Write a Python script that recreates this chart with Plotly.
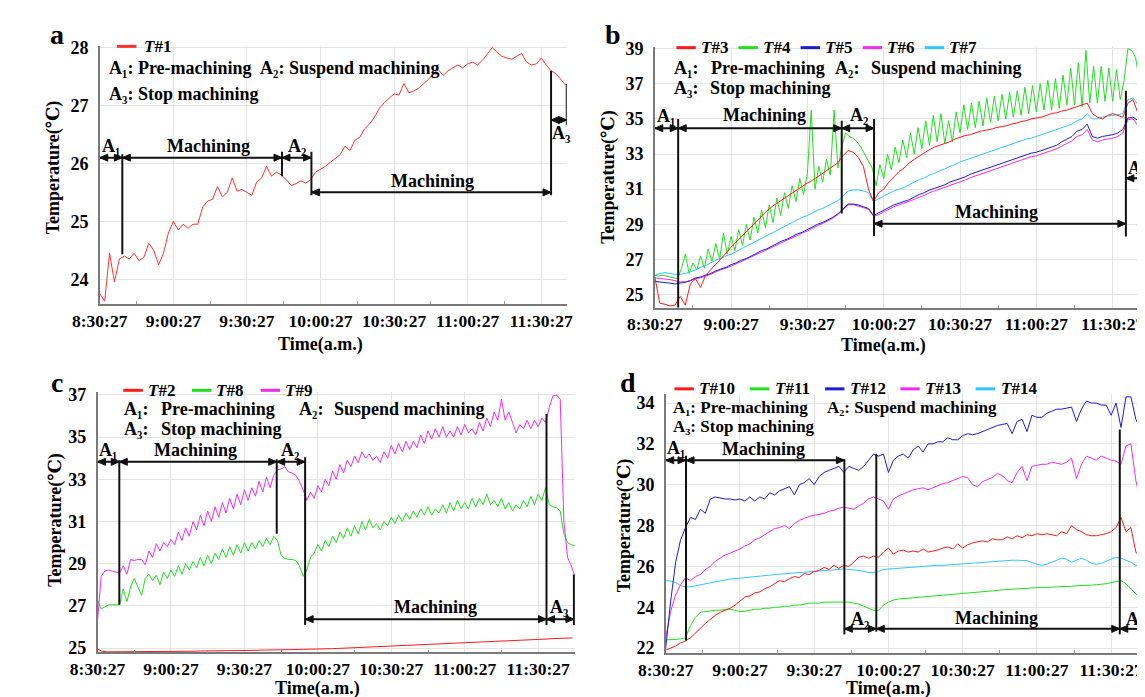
import plotly.graph_objects as go

W, H = 1145, 697
FONT = "Liberation Serif, DejaVu Serif, Noto Sans CJK SC, serif"

# ---------------- axis labels ----------------
TICK_MIN = [0, 30, 60, 90, 120, 150, 180]
TICK_TEXT = ["8:30:27", "9:00:27", "9:30:27", "10:00:27", "10:30:27", "11:00:27", "11:30:27"]
MINOR_MIN = [15, 45, 75, 105, 135, 165]

STEP_COARSE = 2.0   # minutes between samples (most series)
STEP_FINE = 1.5     # minutes between samples (strongly oscillating series)

# ---------------- panel a ----------------
T1 = [23.75, 23.62, 24.45, 23.95, 24.35, 24.4, 24.35, 24.45, 24.32, 24.38,
      24.62, 24.5, 24.25, 24.45, 24.8, 25.0, 24.85, 24.95, 24.88, 24.95,
      24.95, 25.25, 25.35, 25.38, 25.6, 25.42, 25.5, 25.75, 25.52, 25.55,
      25.5, 25.45, 25.68, 25.75, 25.95, 25.78, 25.85, 25.8, 25.72, 25.62,
      25.65, 25.7, 25.66, 25.72, 25.85, 25.9, 25.95, 26.02, 26.08, 26.15,
      26.3, 26.22, 26.4, 26.45, 26.6, 26.68, 26.8, 26.95, 27.05, 27.12,
      27.2, 27.18, 27.38, 27.22, 27.25, 27.3, 27.38, 27.45, 27.55, 27.62,
      27.52, 27.6, 27.65, 27.7, 27.65, 27.72, 27.75, 27.7, 27.78, 27.9,
      28.0, 27.92, 27.85, 27.82, 27.8, 27.85, 27.9, 27.75, 27.7, 27.72,
      27.82, 27.7, 27.6, 27.55, 27.45, 27.35]

# ---------------- panel b ----------------
T3 = [26.0, 24.5, 24.45, 24.35, 24.4, 24.9, 24.4, 25.6, 25.9, 25.4,
      26.1, 26.4, 26.75, 27.0, 27.35, 27.7, 28.0, 28.3, 28.6, 28.9,
      29.2, 29.5, 29.75, 30.0, 30.2, 30.4, 30.6, 30.8, 31.0, 31.2,
      31.35, 31.5, 31.7, 31.9, 32.1, 32.3, 32.5, 32.9, 33.2, 33.1,
      32.8, 32.3, 31.0, 30.3, 30.8, 31.0, 31.4, 31.7, 32.0, 32.2,
      32.5, 32.7, 32.9, 33.1, 33.25, 33.4, 33.5, 33.6, 33.7, 33.85,
      33.95, 34.05, 34.1, 34.2, 34.3, 34.35, 34.4, 34.5, 34.55, 34.6,
      34.7, 34.75, 34.85, 34.9, 35.0, 35.05, 35.1, 35.2, 35.3, 35.35,
      35.45, 35.5, 35.6, 35.7, 35.8, 35.9, 35.3, 35.1, 35.0, 35.2,
      35.3, 35.2, 35.1, 35.9, 36.1, 35.3, 33.5, 32.6]
T4 = [26.1, 26.05, 26.1, 26.05, 26.0, 25.95, 25.9, 26.5, 27.3, 26.2,
      26.8, 26.4, 27.2, 26.5, 27.6, 26.9, 27.9, 27.0, 28.5, 27.3,
      28.3, 27.5, 28.7, 27.8, 29.0, 28.1, 29.4, 28.5, 29.8, 28.8,
      30.1, 29.1, 30.5, 29.5, 30.8, 29.9, 31.2, 30.3, 31.6, 30.7,
      31.9, 35.5, 31.0, 32.3, 31.4, 32.7, 31.8, 35.5, 32.2, 33.4,
      34.2, 34.0, 33.9, 33.7, 33.4, 33.0, 32.6, 32.2, 31.2, 32.4,
      31.6, 33.0, 32.1, 33.4, 32.5, 33.8, 32.8, 34.2, 33.0, 34.5,
      33.3, 34.9, 33.5, 35.2, 33.7, 35.3, 33.6, 34.9, 33.7, 35.4,
      34.2, 35.8, 34.4, 35.9, 34.5, 36.0, 34.6, 36.2, 34.8, 36.3,
      34.9, 36.4, 35.0, 36.5, 35.1, 36.6, 35.2, 36.8, 35.3, 36.9,
      35.4, 37.0, 35.5, 37.2, 35.5, 37.3, 35.6, 37.5, 35.8, 37.9,
      35.8, 38.2, 35.7, 38.9, 35.9, 38.0, 35.9, 38.0, 36.0, 37.9,
      36.0, 37.8, 36.1, 37.2, 39.0, 38.9, 38.5, 37.2, 35.8, 35.0]
T5 = [25.75, 25.7, 25.68, 25.65, 25.6, 25.65, 25.7, 25.8, 25.95, 26.0,
      26.1, 26.2, 26.35, 26.45, 26.55, 26.7, 26.8, 26.95, 27.05, 27.2,
      27.35, 27.5, 27.6, 27.75, 27.9, 28.05, 28.15, 28.3, 28.45, 28.55,
      28.7, 28.85, 29.0, 29.1, 29.25, 29.4, 29.6, 29.9, 30.15, 30.15,
      30.1, 30.0, 29.9, 29.5, 29.65, 29.8, 29.95, 30.1, 30.2, 30.3,
      30.4, 30.55, 30.7, 30.8, 30.95, 31.05, 31.15, 31.25, 31.4, 31.5,
      31.6, 31.7, 31.85, 31.95, 32.05, 32.15, 32.25, 32.35, 32.45, 32.55,
      32.65, 32.75, 32.85, 32.95, 33.05, 33.1, 33.2, 33.3, 33.4, 33.5,
      33.7, 33.85, 34.0, 34.3, 34.4, 34.7, 34.0, 33.9, 34.0, 34.05,
      34.1, 34.2, 34.4, 35.05, 35.1, 34.9, 34.0, 33.8]
T6 = [25.95, 25.9, 25.88, 25.85, 25.8, 25.72, 25.72, 25.78, 25.9, 25.95,
      26.05, 26.15, 26.3, 26.4, 26.5, 26.62, 26.75, 26.88, 27.0, 27.12,
      27.28, 27.42, 27.55, 27.68, 27.82, 27.98, 28.1, 28.22, 28.38, 28.5,
      28.62, 28.78, 28.92, 29.05, 29.18, 29.35, 29.55, 29.85, 30.1, 30.12,
      30.05, 29.95, 29.85, 29.45, 29.55, 29.7, 29.85, 30.0, 30.1, 30.2,
      30.3, 30.42, 30.55, 30.65, 30.8, 30.9, 31.0, 31.1, 31.22, 31.32,
      31.42, 31.52, 31.65, 31.75, 31.85, 31.95, 32.05, 32.15, 32.25, 32.35,
      32.45, 32.55, 32.65, 32.75, 32.85, 32.9, 33.0, 33.1, 33.2, 33.3,
      33.45, 33.6, 33.75, 34.0, 34.1, 34.4, 33.8, 33.7, 33.8, 33.85,
      33.9, 34.0, 34.2, 34.95, 35.0, 34.6, 33.7, 33.5]
T7 = [26.1, 26.2, 26.25, 26.2, 26.15, 26.15, 26.2, 26.3, 26.4, 26.55,
      26.65, 26.8, 26.95, 27.05, 27.2, 27.3, 27.45, 27.6, 27.75, 27.9,
      28.05, 28.2, 28.35, 28.5, 28.65, 28.8, 28.95, 29.1, 29.25, 29.4,
      29.5, 29.65, 29.8, 29.9, 30.05, 30.2, 30.35, 30.6, 30.9, 30.95,
      30.95, 30.9, 30.8, 30.3, 30.45, 30.6, 30.75, 30.9, 31.0, 31.1,
      31.25, 31.4, 31.55, 31.65, 31.8, 31.9, 32.05, 32.15, 32.3, 32.4,
      32.55, 32.65, 32.75, 32.85, 32.95, 33.05, 33.15, 33.25, 33.35, 33.45,
      33.55, 33.65, 33.75, 33.85, 33.9, 34.0, 34.1, 34.2, 34.3, 34.4,
      34.5, 34.6, 34.7, 34.9, 35.0, 35.3, 35.0, 35.0, 35.1, 35.15,
      35.2, 35.25, 35.3, 36.1, 36.2, 35.8, 34.8, 34.5]

# ---------------- panel c ----------------
T2 = [24.95, 24.84, 24.82, 24.82, 24.82, 24.82, 24.83, 24.83, 24.83, 24.83,
      24.83, 24.83, 24.84, 24.84, 24.84, 24.84, 24.85, 24.85, 24.85, 24.85,
      24.85, 24.86, 24.86, 24.86, 24.86, 24.87, 24.87, 24.87, 24.88, 24.88,
      24.88, 24.89, 24.89, 24.9, 24.9, 24.9, 24.91, 24.91, 24.92, 24.92,
      24.93, 24.93, 24.94, 24.94, 24.95, 24.95, 24.96, 24.97, 24.97, 24.98,
      24.99, 25.0, 25.0, 25.01, 25.02, 25.03, 25.04, 25.05, 25.06, 25.07,
      25.08, 25.09, 25.1, 25.11, 25.12, 25.13, 25.14, 25.15, 25.16, 25.17,
      25.18, 25.19, 25.2, 25.21, 25.22, 25.23, 25.24, 25.25, 25.26, 25.27,
      25.28, 25.29, 25.3, 25.31, 25.32, 25.33, 25.34, 25.35, 25.36, 25.38,
      25.39, 25.41, 25.43, 25.45, 25.46, 25.47, 25.48, 25.48]
T8 = [27.3, 26.85, 26.95, 27.05, 27.05, 27.05, 27.05, 27.8, 27.2, 27.9,
      28.3, 27.9, 27.5, 28.3, 28.5, 28.2, 28.45, 28.0, 28.6, 28.3,
      28.7, 28.4, 28.9, 28.5, 29.0, 28.7, 29.1, 28.8, 29.3, 28.9,
      29.4, 29.0, 29.5, 29.2, 29.7, 29.3, 29.8, 29.4, 29.9, 29.5,
      30.0, 29.6, 30.0, 29.7, 30.1, 29.8, 30.2, 29.9, 30.3, 30.1,
      29.4, 29.25, 29.2, 29.2, 29.15, 28.9, 28.4, 28.7, 29.3, 29.5,
      29.9, 29.6, 30.1, 29.8, 30.3, 30.0, 30.5, 30.2, 30.7, 30.3,
      30.8, 30.4, 31.0, 30.6, 31.1, 30.7, 30.9, 30.6, 31.0, 30.8,
      31.2, 30.9, 31.3, 31.0, 31.4, 31.1, 31.5, 31.2, 31.6, 31.3,
      31.7, 31.3, 31.6, 31.4, 31.8, 31.4, 31.9, 31.5, 32.0, 31.6,
      31.9, 31.6, 32.1, 31.7, 32.1, 31.8, 32.3, 31.8, 32.0, 31.7,
      32.1, 31.6, 31.9, 31.5, 31.8, 31.6, 32.0, 31.7, 32.2, 31.8,
      32.3, 32.0, 32.6, 31.8, 31.7, 31.65, 31.5, 30.4, 30.0, 29.9,
      29.85]
T9 = [26.3, 28.4, 28.65, 28.7, 28.65, 28.6, 28.55, 28.9, 28.5, 29.2,
      29.15, 29.2, 29.2, 28.95, 29.6, 29.3, 29.95, 29.6, 30.0, 29.8,
      30.15, 29.9, 30.5, 30.1, 30.7, 30.3, 31.0, 30.6, 31.3, 30.8,
      31.5, 31.0, 31.7, 31.2, 31.9, 31.4, 32.1, 31.6, 32.3, 31.8,
      32.5, 32.0, 32.6, 32.2, 32.9, 32.4, 33.1, 32.6, 33.2, 33.45,
      33.5, 33.6, 33.35, 33.3, 33.2, 32.9, 32.5, 32.0, 32.4, 32.1,
      32.7, 32.4, 33.0, 32.7, 33.4, 33.0, 33.7, 33.3, 33.9, 33.6,
      34.1, 33.8, 34.3, 34.0, 34.2, 33.9, 34.1, 33.8, 34.3, 34.0,
      34.6, 34.2, 34.7, 34.3, 34.8, 34.4, 34.8, 34.5, 35.1, 34.7,
      35.3, 34.9, 35.4, 35.0, 35.5, 35.0, 35.3, 35.0, 35.5, 35.1,
      35.6, 35.2, 35.4, 35.1, 35.7, 35.3, 35.9, 35.5, 36.2, 35.8,
      36.8, 35.8, 36.2, 35.7, 35.2, 35.6, 35.4, 35.8, 35.4, 35.8,
      35.5, 35.9, 35.7, 36.4, 36.95, 37.0, 36.8, 31.0, 29.3, 28.9,
      28.4]

# ---------------- panel d ----------------
T10 = [21.9, 22.0, 22.1, 22.25, 22.35, 22.5, 22.75, 23.0, 23.2, 23.4,
       23.6, 23.75, 23.85, 23.95, 24.1, 24.3, 24.5, 24.55, 24.7, 24.75,
       24.9, 25.0, 25.15, 25.3, 25.25, 25.4, 25.5, 25.45, 25.65, 25.6,
       25.75, 25.8, 25.95, 25.85, 26.05, 25.9, 26.05, 26.0, 26.2, 26.45,
       26.5, 26.4, 26.5, 26.45, 26.7, 26.9, 26.6, 26.75, 26.8, 26.7,
       26.75, 26.7, 26.85, 26.7, 26.75, 26.8, 26.9, 26.95, 26.85, 27.1,
       26.9, 27.05, 27.15, 27.2, 27.25, 27.2, 27.35, 27.3, 27.3, 27.45,
       27.35, 27.5, 27.4, 27.55, 27.5, 27.6, 27.55, 27.6, 27.55, 27.5,
       27.7, 27.6, 28.0, 27.8, 27.7, 27.55, 27.5, 27.5, 27.55, 27.6,
       27.7, 27.9, 28.4, 27.7, 27.9, 26.7, 26.4, 26.3]
T11 = [22.4, 22.4, 22.42, 22.45, 22.5, 23.1, 23.5, 23.75, 23.8, 23.82,
       23.85, 23.85, 23.9, 23.9, 23.85, 23.78, 23.8, 23.85, 23.9, 23.9,
       23.95, 23.95, 24.0, 24.0, 24.05, 24.05, 24.1, 24.1, 24.15, 24.2,
       24.2, 24.2, 24.25, 24.25, 24.25, 24.25, 24.25, 24.25, 24.2, 24.15,
       24.05, 23.95, 23.85, 23.85, 24.1, 24.25, 24.35, 24.4, 24.42, 24.45,
       24.45, 24.48, 24.5, 24.52, 24.55, 24.55, 24.58, 24.6, 24.62, 24.65,
       24.65, 24.68, 24.7, 24.72, 24.75, 24.78, 24.8, 24.82, 24.85, 24.85,
       24.88, 24.9, 24.9, 24.92, 24.95, 24.95, 24.95, 24.97, 24.98, 25.0,
       25.0, 25.02, 25.02, 25.05, 25.05, 25.05, 25.08, 25.1, 25.12, 25.15,
       25.2, 25.25, 25.3, 25.15, 24.9, 24.6, 24.4, 24.35]
T12 = [22.0, 24.3, 26.2, 27.3, 27.9, 28.4, 28.3, 28.8, 28.6, 29.3,
       29.4, 29.35, 29.3, 29.3, 29.25, 29.3, 29.2, 29.4, 29.2, 29.4,
       29.3, 29.6, 29.5, 29.7, 29.8, 29.9, 29.5, 30.0, 30.1, 30.3,
       30.0, 30.4, 30.6, 30.7, 30.8, 30.9, 30.6, 30.9, 30.8, 30.7,
       30.9, 31.2, 31.5, 31.4, 31.5, 30.6, 31.2, 31.4, 31.5, 31.3,
       31.7, 31.9, 31.6, 32.0, 32.0, 32.1, 32.1, 32.3, 32.2, 32.2,
       32.4, 32.5, 32.45, 32.5, 32.6, 32.7, 32.8, 32.9, 32.95, 33.0,
       32.5, 33.1, 33.2, 32.6, 33.4, 33.3, 33.3, 33.5, 33.6, 33.7,
       33.7, 33.75, 33.8, 33.1, 33.7, 34.1, 34.0, 34.0, 33.9, 33.9,
       33.4, 34.0, 32.8, 34.3, 34.3, 33.2, 32.7, 32.5]
T13 = [22.5, 23.8, 24.6, 25.1, 25.45, 25.3, 25.5, 25.6, 25.85, 26.0,
       26.25, 26.4, 26.55, 26.65, 26.75, 26.85, 27.0, 27.1, 27.3, 27.4,
       27.55, 27.7, 27.85, 27.9, 28.0, 27.85, 28.1, 28.25, 28.35, 28.45,
       28.5, 28.55, 28.6, 28.7, 28.75, 28.85, 28.9, 28.85, 28.8, 28.95,
       29.1, 29.3, 29.4, 29.3, 29.2, 28.8, 29.3, 29.45, 29.55, 29.65,
       29.75, 29.8, 29.85, 29.75, 29.85, 29.95, 30.05, 30.1, 30.2, 30.3,
       30.4, 30.35, 30.0, 29.9, 30.15, 30.25, 30.35, 30.55, 30.45, 30.2,
       30.1, 30.6, 30.9, 30.2, 30.9, 30.95, 31.0, 31.0, 31.1, 31.05,
       31.0, 31.1, 31.3, 30.3, 31.0, 31.4, 31.3, 31.2, 31.4, 31.3,
       31.2, 31.15, 31.0, 31.9, 32.0, 30.2, 29.1, 28.8]
T14 = [25.3, 25.28, 25.22, 25.05, 25.0, 25.0, 25.05, 25.1, 25.15, 25.2,
       25.22, 25.28, 25.32, 25.38, 25.4, 25.42, 25.45, 25.48, 25.5, 25.52,
       25.55, 25.57, 25.6, 25.62, 25.65, 25.67, 25.7, 25.72, 25.72, 25.75,
       25.75, 25.78, 25.8, 25.82, 25.85, 25.85, 25.87, 25.85, 25.83, 25.8,
       25.75, 25.7, 25.7, 25.75, 25.85, 25.87, 25.9, 25.9, 25.92, 25.95,
       25.97, 26.0, 26.0, 26.02, 26.03, 26.05, 26.05, 26.07, 26.08, 26.1,
       26.1, 26.12, 26.15, 26.17, 26.2, 26.2, 26.22, 26.25, 26.25, 26.27,
       26.3, 26.3, 26.3, 26.28, 26.2, 26.1, 26.05, 26.1, 26.2, 26.3,
       26.4, 26.35, 26.2, 26.3, 26.4, 26.3, 26.15, 26.1, 26.15, 26.25,
       26.35, 26.45, 26.4, 26.3, 26.2, 26.05, 26.0, 25.95]

RED, GREEN, BLUE, MAGENTA, CYAN = "#ff1a1a", "#1ee01e", "#1c1cd0", "#f02cf0", "#2ec8ff"

# ---------------- panel geometry (pixels) and axis ranges ----------------
PANELS = {
    "a": dict(x0=65.7, x1=547.0, top=30.5, bottom=294.0, xr=[0, 190.4], yr=[23.57, 28.03],
              yt=[24, 25, 26, 27, 28]),
    "b": dict(x0=637.7, x1=1145.0, top=31.7, bottom=297.7, xr=[0, 193.5], yr=[24.25, 39.09],
              yt=[25, 27, 29, 31, 33, 35, 37, 39]),
    "c": dict(x0=63.4, x1=555.4, top=383.3, bottom=649.3, xr=[0, 195.0], yr=[24.8, 37.16],
              yt=[25, 27, 29, 31, 33, 35, 37]),
    "d": dict(x0=649.0, x1=1145.0, top=386.0, bottom=650.0, xr=[0, 194.5], yr=[21.76, 34.43],
              yt=[22, 24, 26, 28, 30, 32, 34]),
}
AX = {"a": ("x", "y"), "b": ("x2", "y2"), "c": ("x3", "y3"), "d": ("x4", "y4")}

SERIES = {
    "a": [("1", T1, STEP_COARSE, "#ff3333")],
    "b": [("3", T3, STEP_COARSE, RED), ("4", T4, STEP_FINE, GREEN), ("5", T5, STEP_COARSE, BLUE),
          ("6", T6, STEP_COARSE, MAGENTA), ("7", T7, STEP_COARSE, CYAN)],
    "c": [("2", T2, STEP_COARSE, RED), ("8", T8, STEP_FINE, GREEN), ("9", T9, STEP_FINE, MAGENTA)],
    "d": [("10", T10, STEP_COARSE, RED), ("11", T11, STEP_COARSE, GREEN), ("12", T12, STEP_COARSE, BLUE),
          ("13", T13, STEP_COARSE, MAGENTA), ("14", T14, STEP_COARSE, CYAN)],
}
DRAW_ORDER = {"a": ["1"], "b": ["4", "7", "6", "5", "3"], "c": ["2", "8", "9"],
              "d": ["14", "11", "10", "13", "12"]}

# legend key placement: (first swatch left px, centre y px, spacing px, text offset px)
LEGEND_PX = {"a": (83.5, 31.0, 0, 26.5), "b": (660, 32.3, 64, 24),
             "c": (90, 382.0, 70.8, 24), "d": (658, 380.5, 77.6, 24.7)}

# ---------------- process annotations (minutes / degC) ----------------
ARROWS = {
    "a": [(0, 9.2, 26.1), (9.2, 74.3, 26.1), (74.3, 86.3, 26.1), (86.3, 184.0, 25.5), (184.0, 190.4, 26.75)],
    "b": [(0, 9.2, 34.47), (9.2, 73.5, 34.47), (73.5, 86.2, 34.47), (86.2, 185.2, 29.03), (185.2, 197.0, 31.62)],
    "c": [(0, 8.9, 33.83), (8.9, 73.2, 33.83), (73.2, 84.8, 33.83), (84.8, 183.4, 26.37), (183.4, 194.6, 26.37)],
    "d": [(0, 8.2, 31.2), (8.2, 72.2, 31.2), (72.2, 85.1, 22.94), (85.1, 183.5, 22.94), (183.5, 194.3, 22.94)],
}
VLINES = {
    "a": [(9.2, 26.16, 24.43), (74.3, 26.2, 25.78), (86.3, 26.2, 25.45), (184.0, 27.6, 25.45), (190.4, 27.37, 26.67)],
    "b": [(9.2, 35.0, 24.25), (73.5, 34.9, 29.62), (86.2, 35.0, 28.33), (185.2, 36.6, 28.3)],
    "c": [(8.9, 33.9, 27.05), (73.2, 33.95, 30.42), (84.8, 34.05, 26.09), (183.4, 36.1, 26.09), (194.6, 28.49, 26.09)],
    "d": [(8.2, 31.42, 22.37), (72.2, 31.25, 22.67), (85.1, 31.5, 22.8), (183.5, 32.7, 22.67), (194.4, 32.5, 22.67)],
}
PHASE_LABELS = {
    "a": [("A₁", 4.6, 26.3), ("Machining", 44.3, 26.3), ("A₂", 80.3, 26.3),
          ("Machining", 135.6, 25.7), ("A₃", 188.3, 26.53)],
    "b": [("A₁", 4.5, 35.17), ("Machining", 43.0, 35.2), ("A₂", 80.2, 35.2),
          ("Machining", 134.2, 29.72), ("A₃", 189.6, 32.2)],
    "c": [("A₁", 4.3, 34.37), ("Machining", 40.2, 34.4), ("A₂", 78.6, 34.4),
          ("Machining", 137.9, 26.94), ("A₃", 188.9, 26.94)],
    "d": [("A₁", 4.3, 31.8), ("Machining", 39.7, 31.77), ("A₂", 78.6, 23.42),
          ("Machining", 133.5, 23.47), ("A₃", 189.8, 23.42)],
}
NOTES = {
    "a": [("A₁: Pre-machining", 74, 53.3, 18), ("A₂: Suspend machining", 230, 53.3, 18),
          ("A₃: Stop machining", 74, 80, 18)],
    "b": [("A₁:", 656, 53.3, 18), ("Pre-machining", 695, 53.3, 18), ("A₂:", 822, 53.3, 18),
          ("Suspend machining", 860, 53.3, 18), ("A₃:", 656, 73.3, 18),
          ("Stop machining", 694, 73.3, 18)],
    "c": [("A₁:", 90, 401.5, 18), ("Pre-machining", 128, 401.5, 18), ("A₂:", 270, 401.5, 18),
          ("Suspend machining", 306, 401.5, 18), ("A₃:", 90, 421, 18),
          ("Stop machining", 128, 421, 18)],
    "d": [("A₁: Pre-machining", 655, 399.5, 17),
          ("A₂: Suspend machining", 814.5, 399.5, 17),
          ("A₃: Stop machining", 655, 419.0, 17)],
}
PANEL_LETTER = {"a": (22, 19), "b": (595, 19), "c": (21.5, 374), "d": (610, 374)}
YTITLE_PX = {"a": (18.3, 154.7), "b": (590.7, 164), "c": (20.7, 514), "d": (606.7, 520)}
XTITLE_PX = {"a": 335, "b": 336, "c": 686.5, "d": 686.5}

ARROW_HEAD_LEFT = "M0,0 L8,3.5 L8,-3.5 Z"
ARROW_HEAD_RIGHT = "M0,0 L-8,3.5 L-8,-3.5 Z"


def px_x(p):
    return p / W


def px_y(p):
    return 1 - p / H


BOLD = dict(family=FONT, color="black", weight="bold")
INK = "#111111"

fig = go.Figure()
layout = dict(width=W, height=H, margin=dict(l=0, r=0, t=0, b=0),
              paper_bgcolor="white", plot_bgcolor="white", showlegend=False)
annotations = []
shapes = []

for key, g in PANELS.items():
    xa, ya = AX[key]
    xname = "xaxis" if xa == "x" else "xaxis" + xa[1:]
    yname = "yaxis" if ya == "y" else "yaxis" + ya[1:]
    layout[xname] = dict(domain=[px_x(g["x0"]), px_x(g["x1"])], range=g["xr"], anchor=ya,
                         tickmode="array", tickvals=TICK_MIN, ticktext=TICK_TEXT,
                         showgrid=True, gridcolor="#e4e4e4", gridwidth=1, zeroline=False,
                         showline=True, linecolor="#7a7a7a", linewidth=1.5, ticks="",
                         ticklabelstandoff=0,
                         tickfont=dict(size=17.5, **BOLD),
                         minor=dict(tickmode="array", tickvals=MINOR_MIN, ticks="inside",
                                    ticklen=3, tickcolor="#9a9a9a", showgrid=False))
    layout[yname] = dict(domain=[px_y(g["bottom"]), px_y(g["top"])], range=g["yr"], anchor=xa,
                         tickmode="array", tickvals=g["yt"], showgrid=True, gridcolor="#e4e4e4",
                         gridwidth=1, zeroline=False, showline=True, linecolor="#7a7a7a",
                         linewidth=1.5, ticks="", ticklabelstandoff=6,
                         tickfont=dict(size=18, **BOLD))

    series = {name: (vals, step, col) for name, vals, step, col in SERIES[key]}
    for name in DRAW_ORDER[key]:
        vals, step, col = series[name]
        t = [round(i * step, 2) for i in range(len(vals))]
        fig.add_trace(go.Scatter(x=t, y=vals, mode="lines", line=dict(color=col, width=1),
                                 name="T#" + name, xaxis=xa, yaxis=ya, hoverinfo="skip"))

    # legend keys (swatch + label)
    sx, sy, sp, toff = LEGEND_PX[key]
    for i, (name, vals, step, col) in enumerate(SERIES[key]):
        x0 = sx + i * sp
        shapes.append(dict(type="line", xref="paper", yref="paper", x0=px_x(x0), x1=px_x(x0 + 20),
                           y0=px_y(sy), y1=px_y(sy), line=dict(color=col, width=3)))
        annotations.append(dict(x=px_x(x0 + toff), y=px_y(sy), xref="paper", yref="paper",
                                text="<i>T</i>#" + name, showarrow=False, xanchor="left",
                                yanchor="middle", borderpad=0, font=dict(size=17, **BOLD)))

    # double-headed phase arrows
    for x0, x1, yv in ARROWS[key]:
        shapes.append(dict(type="line", xref=xa, yref=ya, x0=x0, x1=x1, y0=yv, y1=yv,
                           line=dict(color=INK, width=2)))
        shapes.append(dict(type="path", xref=xa, yref=ya, xsizemode="pixel", ysizemode="pixel",
                           xanchor=x0, yanchor=yv, path=ARROW_HEAD_LEFT, fillcolor=INK,
                           line=dict(color=INK, width=1)))
        shapes.append(dict(type="path", xref=xa, yref=ya, xsizemode="pixel", ysizemode="pixel",
                           xanchor=x1, yanchor=yv, path=ARROW_HEAD_RIGHT, fillcolor=INK,
                           line=dict(color=INK, width=1)))
    for xv, y0, y1 in VLINES[key]:
        shapes.append(dict(type="line", xref=xa, yref=ya, x0=xv, x1=xv, y0=y0, y1=y1,
                           line=dict(color=INK, width=2)))
    for txt, xv, yv in PHASE_LABELS[key]:
        annotations.append(dict(x=xv, y=yv, xref=xa, yref=ya, text=txt, showarrow=False,
                                xanchor="center", yanchor="middle", borderpad=0,
                                font=dict(size=18, **BOLD)))
    for txt, pxv, pyv, fs in NOTES[key]:
        annotations.append(dict(x=px_x(pxv), y=px_y(pyv), xref="paper", yref="paper", text=txt,
                                showarrow=False, xanchor="left", yanchor="middle", borderpad=0,
                                font=dict(size=fs, **BOLD)))
    lxp, lyp = PANEL_LETTER[key]
    annotations.append(dict(x=px_x(lxp), y=px_y(lyp), xref="paper", yref="paper", text=key,
                            showarrow=False, xanchor="center", yanchor="middle",
                            font=dict(size=28, **BOLD)))
    tx, ty = YTITLE_PX[key]
    annotations.append(dict(x=px_x(tx), y=px_y(ty), xref="paper", yref="paper",
                            text="Temperature(℃)", textangle=-90, showarrow=False,
                            xanchor="center", yanchor="middle", font=dict(size=18, **BOLD)))
    annotations.append(dict(x=90, y=px_y(XTITLE_PX[key]), xref=xa, yref="paper", text="Time(a.m.)",
                            showarrow=False, xanchor="center", yanchor="middle", borderpad=0,
                            font=dict(size=18, **BOLD)))

layout["annotations"] = annotations
layout["shapes"] = shapes
fig.update_layout(**layout)
fig.write_html("out.html")
